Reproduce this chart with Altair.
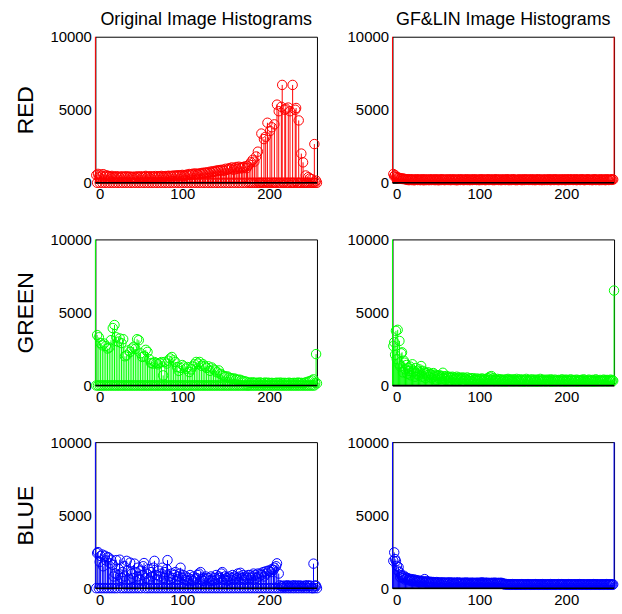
import altair as alt
import pandas as pd

BINS = list(range(256))
X_TICKS = [0, 100, 200]
Y_TICKS = [0, 5000, 10000]
BASELINE = [0]
COL_TITLES = ["Original Image Histograms", "GF&LIN Image Histograms"]
ROW_TITLES = ["RED", "GREEN", "BLUE"]
COLORS = ["#ff0000", "#00ff00", "#0000ff"]

R_ORIG = [
    12000, 520, 0, 610, 380, 0, 560, 450, 0, 590, 420, 0, 480, 510, 0, 430,
    460, 0, 390, 470, 0, 420, 380, 0, 450, 400, 0, 430, 370, 0, 410, 440,
    0, 390, 420, 0, 450, 380, 0, 400, 430, 0, 380, 410, 0, 420, 360, 0,
    440, 400, 0, 380, 450, 0, 410, 390, 0, 430, 470, 0, 400, 420, 0, 450,
    390, 0, 440, 410, 0, 460, 400, 0, 430, 450, 0, 410, 470, 0, 440, 420,
    0, 460, 430, 0, 480, 450, 0, 470, 440, 0, 500, 460, 0, 480, 510, 0,
    470, 520, 0, 490, 540, 0, 510, 480, 0, 560, 520, 0, 600, 540, 0, 580,
    620, 0, 560, 640, 0, 600, 580, 0, 650, 620, 0, 680, 640, 0, 700, 660,
    0, 720, 680, 0, 760, 700, 0, 790, 740, 0, 820, 780, 0, 860, 800, 0,
    880, 840, 0, 900, 820, 0, 960, 880, 0, 920, 1000, 0, 940, 1050, 0, 890,
    1000, 0, 1080, 950, 0, 1100, 1020, 0, 980, 1070, 0, 1050, 1120, 0, 1000, 1150,
    0, 1250, 0, 1400, 0, 1570, 0, 1450, 0, 1800, 0, 2130, 0, 0, 0, 3370,
    0, 0, 2990, 0, 3150, 0, 4110, 0, 0, 3550, 0, 3800, 0, 0, 4000, 0,
    0, 5350, 0, 4900, 0, 0, 5200, 6700, 0, 0, 5000, 5080, 0, 0, 5150, 0,
    4900, 0, 0, 6700, 0, 0, 5000, 5120, 0, 0, 4270, 0, 0, 2000, 0, 1400,
    0, 0, 500, 0, 0, 380, 0, 300, 0, 250, 0, 0, 2650, 0, 150, 0,
]

G_ORIG = [
    12000, 0, 3450, 0, 3300, 0, 2900, 0, 2750, 0, 2870, 0, 2700, 0, 2530, 0,
    2600, 0, 3100, 0, 3930, 0, 4140, 0, 3300, 0, 3000, 0, 3220, 0, 2900, 0,
    3170, 0, 2000, 0, 2070, 0, 2400, 0, 2300, 0, 2530, 0, 2650, 0, 2500, 0,
    3170, 0, 3100, 0, 2200, 0, 1950, 0, 2000, 0, 2440, 0, 2300, 0, 1800, 0,
    1540, 0, 1500, 0, 1600, 0, 1540, 0, 1450, 0, 1540, 0, 1600, 0, 690, 0,
    1610, 0, 1500, 0, 1700, 0, 1850, 0, 1950, 0, 1720, 0, 1600, 0, 1260, 0,
    1000, 0, 1200, 0, 1400, 0, 1300, 0, 1150, 0, 1260, 0, 920, 0, 1100, 0,
    1300, 0, 1450, 0, 1610, 0, 1500, 0, 1610, 0, 1350, 0, 1450, 0, 1310, 0,
    1200, 0, 1310, 0, 1000, 0, 1230, 0, 1100, 0, 1030, 0, 900, 0, 1030, 0,
    800, 0, 700, 0, 650, 0, 600, 0, 620, 0, 540, 0, 500, 0, 460, 0,
    480, 0, 420, 0, 380, 0, 400, 0, 350, 0, 300, 0, 280, 0, 250, 0,
    0, 200, 0, 180, 0, 220, 0, 170, 0, 190, 0, 160, 0, 210, 0, 180,
    0, 150, 0, 200, 0, 170, 0, 190, 0, 160, 0, 180, 0, 150, 0, 170,
    0, 190, 0, 160, 0, 200, 0, 150, 0, 180, 0, 170, 0, 160, 0, 190,
    0, 150, 0, 170, 0, 180, 0, 160, 0, 200, 0, 170, 0, 180, 0, 150,
    0, 190, 0, 220, 0, 260, 0, 300, 0, 350, 0, 420, 0, 180, 2150, 150,
]

B_ORIG = [
    12000, 0, 2400, 2470, 0, 1800, 2200, 0, 2300, 1500, 0, 2220, 1900, 0, 2120, 2100,
    0, 1700, 1950, 0, 1600, 800, 0, 1000, 1920, 0, 900, 1300, 1950, 0, 700, 1100,
    0, 1500, 800, 0, 1870, 1200, 0, 600, 1750, 0, 1000, 700, 0, 1680, 1100, 0,
    800, 1400, 0, 600, 1200, 0, 900, 1500, 1720, 0, 700, 1000, 0, 1300, 600, 0,
    1100, 800, 0, 1400, 1870, 0, 900, 600, 0, 1200, 800, 0, 1000, 1400, 0, 700,
    1100, 0, 1300, 1920, 0, 800, 600, 0, 1000, 700, 0, 900, 1100, 0, 600, 800,
    0, 1000, 1400, 0, 700, 900, 0, 600, 800, 0, 500, 700, 0, 900, 600, 0,
    500, 800, 0, 600, 700, 0, 900, 1000, 0, 1100, 600, 0, 500, 700, 0, 800,
    600, 0, 700, 500, 0, 800, 600, 0, 500, 700, 0, 900, 600, 0, 800, 700,
    0, 1000, 1100, 0, 600, 800, 0, 700, 500, 0, 800, 600, 0, 700, 900, 0,
    600, 800, 0, 700, 1000, 0, 800, 1050, 0, 700, 900, 0, 600, 800, 0, 700,
    900, 0, 900, 700, 0, 800, 1000, 0, 900, 700, 0, 1000, 800, 0, 1000, 900,
    0, 1100, 800, 0, 1150, 1000, 0, 1200, 1190, 0, 1100, 1300, 0, 1250, 1400, 0,
    1500, 1700, 0, 1000, 200, 0, 150, 120, 0, 180, 100, 0, 150, 200, 0, 160,
    120, 0, 180, 150, 0, 200, 130, 0, 170, 150, 0, 190, 140, 0, 160, 120,
    0, 180, 150, 0, 200, 140, 0, 170, 160, 0, 0, 1680, 0, 190, 150, 0,
]

R_GF = [
    12000, 600, 450, 520, 380, 400, 320, 350, 300, 280, 310, 260, 290, 250, 270, 240,
    230, 200, 250, 180, 220, 240, 190, 210, 230, 170, 220, 200, 240, 190, 210, 230,
    180, 220, 200, 240, 170, 210, 230, 190, 220, 200, 180, 240, 210, 190, 230, 200,
    220, 180, 240, 200, 210, 170, 230, 220, 190, 240, 200, 210, 180, 230, 200, 220,
    190, 230, 210, 180, 240, 200, 220, 190, 230, 210, 170, 220, 200, 240, 190, 210,
    230, 200, 180, 220, 210, 240, 190, 200, 230, 180, 220, 210, 190, 240, 200, 220,
    210, 190, 230, 200, 180, 220, 240, 190, 210, 230, 200, 180, 220, 210, 240, 190,
    200, 230, 210, 190, 220, 180, 240, 210, 200, 230, 190, 220, 210, 180, 230, 200,
    220, 200, 190, 240, 210, 230, 180, 220, 200, 190, 240, 210, 230, 200, 180, 220,
    190, 210, 230, 200, 220, 180, 210, 240, 190, 220, 200, 230, 210, 190, 220, 200,
    240, 190, 210, 220, 180, 230, 200, 210, 240, 190, 220, 200, 180, 230, 210, 190,
    210, 230, 190, 200, 240, 210, 180, 220, 230, 200, 190, 240, 210, 200, 220, 180,
    230, 200, 220, 190, 210, 240, 200, 180, 220, 230, 210, 190, 240, 200, 210, 230,
    190, 220, 200, 240, 180, 210, 230, 200, 190, 220, 240, 210, 200, 180, 230, 210,
    200, 240, 210, 190, 220, 200, 180, 230, 210, 240, 190, 200, 220, 210, 180, 230,
    220, 190, 230, 200, 210, 180, 240, 220, 200, 190, 230, 210, 200, 240, 220, 12000,
]

G_GF = [
    12000, 2700, 2960, 2100, 3740, 1800, 3810, 1500, 3050, 1300, 2200, 2270, 900, 1700, 1560, 1100,
    1400, 800, 1200, 1000, 1300, 700, 1100, 1450, 900, 1000, 600, 1200, 800, 1000, 700, 1100,
    900, 1330, 600, 1000, 800, 900, 500, 850, 700, 900, 600, 800, 750, 500, 700, 850,
    600, 750, 400, 700, 650, 500, 700, 600, 450, 650, 870, 500, 600, 400, 650, 550,
    500, 600, 350, 550, 500, 600, 400, 550, 450, 500, 600, 350, 500, 550, 400, 500,
    450, 550, 300, 500, 450, 400, 550, 350, 480, 420, 500, 300, 450, 500, 380, 420,
    350, 480, 400, 300, 450, 420, 350, 480, 300, 420, 380, 450, 320, 400, 500, 350,
    600, 420, 640, 380, 500, 300, 420, 380, 350, 450, 300, 400, 350, 420, 280, 380,
    350, 300, 420, 280, 380, 450, 320, 400, 300, 360, 420, 280, 400, 340, 300, 450,
    320, 380, 280, 420, 350, 300, 400, 260, 380, 330, 450, 300, 360, 280, 400, 340,
    300, 420, 280, 360, 320, 400, 260, 380, 340, 300, 450, 280, 360, 320, 400, 300,
    350, 280, 400, 320, 360, 300, 420, 260, 380, 330, 300, 400, 280, 350, 320, 380,
    300, 360, 280, 420, 320, 300, 380, 260, 400, 340, 300, 360, 280, 420, 320, 350,
    280, 380, 320, 300, 400, 260, 360, 340, 300, 380, 280, 350, 420, 300, 340, 280,
    360, 300, 400, 280, 340, 320, 380, 260, 350, 300, 420, 280, 360, 320, 300, 380,
    300, 340, 280, 400, 320, 360, 300, 380, 280, 340, 320, 400, 300, 360, 320, 6500,
]

B_GF = [
    12000, 1870, 2450, 1990, 1850, 1530, 1200, 1440, 1100, 750, 900, 800, 700, 850, 600, 750,
    650, 700, 550, 650, 600, 500, 620, 550, 480, 600, 520, 450, 550, 500, 420, 520,
    480, 400, 500, 450, 420, 620, 400, 480, 380, 450, 420, 360, 440, 400, 380, 420,
    360, 400, 340, 420, 380, 350, 400, 330, 380, 360, 400, 340, 370, 350, 390, 330,
    380, 350, 400, 320, 370, 340, 390, 350, 330, 380, 360, 340, 400, 320, 360, 350,
    340, 380, 320, 360, 350, 390, 330, 370, 340, 360, 320, 380, 350, 340, 370, 330,
    360, 340, 380, 320, 350, 370, 330, 400, 340, 360, 320, 380, 350, 330, 370, 340,
    350, 320, 370, 340, 360, 330, 380, 340, 320, 360, 350, 330, 370, 340, 360, 320,
    280, 250, 300, 260, 240, 280, 250, 270, 230, 260, 280, 240, 250, 270, 230, 260,
    250, 270, 240, 260, 230, 280, 250, 240, 270, 230, 260, 250, 280, 240, 260, 230,
    260, 240, 270, 230, 250, 280, 240, 260, 230, 270, 250, 240, 260, 280, 230, 250,
    240, 270, 230, 260, 250, 240, 280, 230, 260, 250, 270, 240, 230, 260, 250, 280,
    250, 230, 260, 280, 240, 250, 270, 230, 260, 240, 250, 280, 230, 260, 240, 270,
    230, 260, 250, 240, 270, 230, 260, 280, 240, 250, 230, 270, 260, 240, 250, 230,
    260, 240, 270, 250, 230, 260, 240, 280, 250, 230, 260, 270, 240, 250, 230, 260,
    240, 270, 250, 230, 260, 240, 280, 250, 230, 260, 240, 270, 250, 230, 260, 12000,
]

FONT = "Liberation Sans"
PANEL_W, PANEL_H = 223, 147


def panel(values, color, title=None, ytitle=None):
    df = pd.DataFrame({"bin": BINS, "count": values})
    xenc = alt.X(
        "bin:Q",
        scale=alt.Scale(domain=[0, 255], nice=False, zero=False),
        axis=alt.Axis(values=X_TICKS, title=None, ticks=False, domain=False,
                      grid=False, labelPadding=4, labelFontSize=15,
                      labelFont=FONT, labelColor="black", format="d"),
    )
    ykw = dict(values=Y_TICKS, ticks=False, domain=False, grid=False,
               labelPadding=4, labelFontSize=15, labelFont=FONT,
               labelColor="black", format="d")
    if ytitle:
        yaxis = alt.Axis(title=ytitle, titleFontSize=23, titleFont=FONT,
                         titleFontWeight="normal", titleColor="black",
                         titlePadding=13, **ykw)
    else:
        yaxis = alt.Axis(title=None, **ykw)
    yenc = alt.Y("count:Q",
                 scale=alt.Scale(domain=[0, 10000], nice=False, clamp=True),
                 axis=yaxis)
    base = alt.Chart(df)
    stems = base.mark_rule(color=color, strokeWidth=1).encode(
        x=xenc, y=yenc, y2=alt.datum(0))
    circles = base.transform_filter("datum.count <= 10000").mark_point(
        shape="circle", filled=False, color=color, size=90, strokeWidth=1,
        opacity=1).encode(x=xenc, y=yenc)
    baseline = alt.Chart(pd.DataFrame({"count": BASELINE})).mark_rule(
        color="black", strokeWidth=1.5).encode(y=yenc)
    layer = alt.layer(stems, circles, baseline).properties(
        width=PANEL_W, height=PANEL_H)
    if title:
        layer = layer.properties(title=alt.TitleParams(
            title, fontSize=18, font=FONT, fontWeight="normal", color="black",
            anchor="middle", frame="group", offset=1))
    return layer


series = [[R_ORIG, R_GF], [G_ORIG, G_GF], [B_ORIG, B_GF]]
panels = []
for r in range(3):
    for c in range(2):
        panels.append(panel(
            series[r][c], COLORS[r],
            title=COL_TITLES[c] if r == 0 else None,
            ytitle=ROW_TITLES[r] if c == 0 else None))

chart = alt.concat(
    *panels, columns=2, spacing={"row": 57, "column": 76}, bounds="flush"
).properties(
    padding={"left": 13, "top": 8, "right": 0, "bottom": 0},
    background="white",
).configure_view(stroke="black", strokeWidth=1)

chart.save("out.html", embed_options={"renderer": "svg", "actions": False})
